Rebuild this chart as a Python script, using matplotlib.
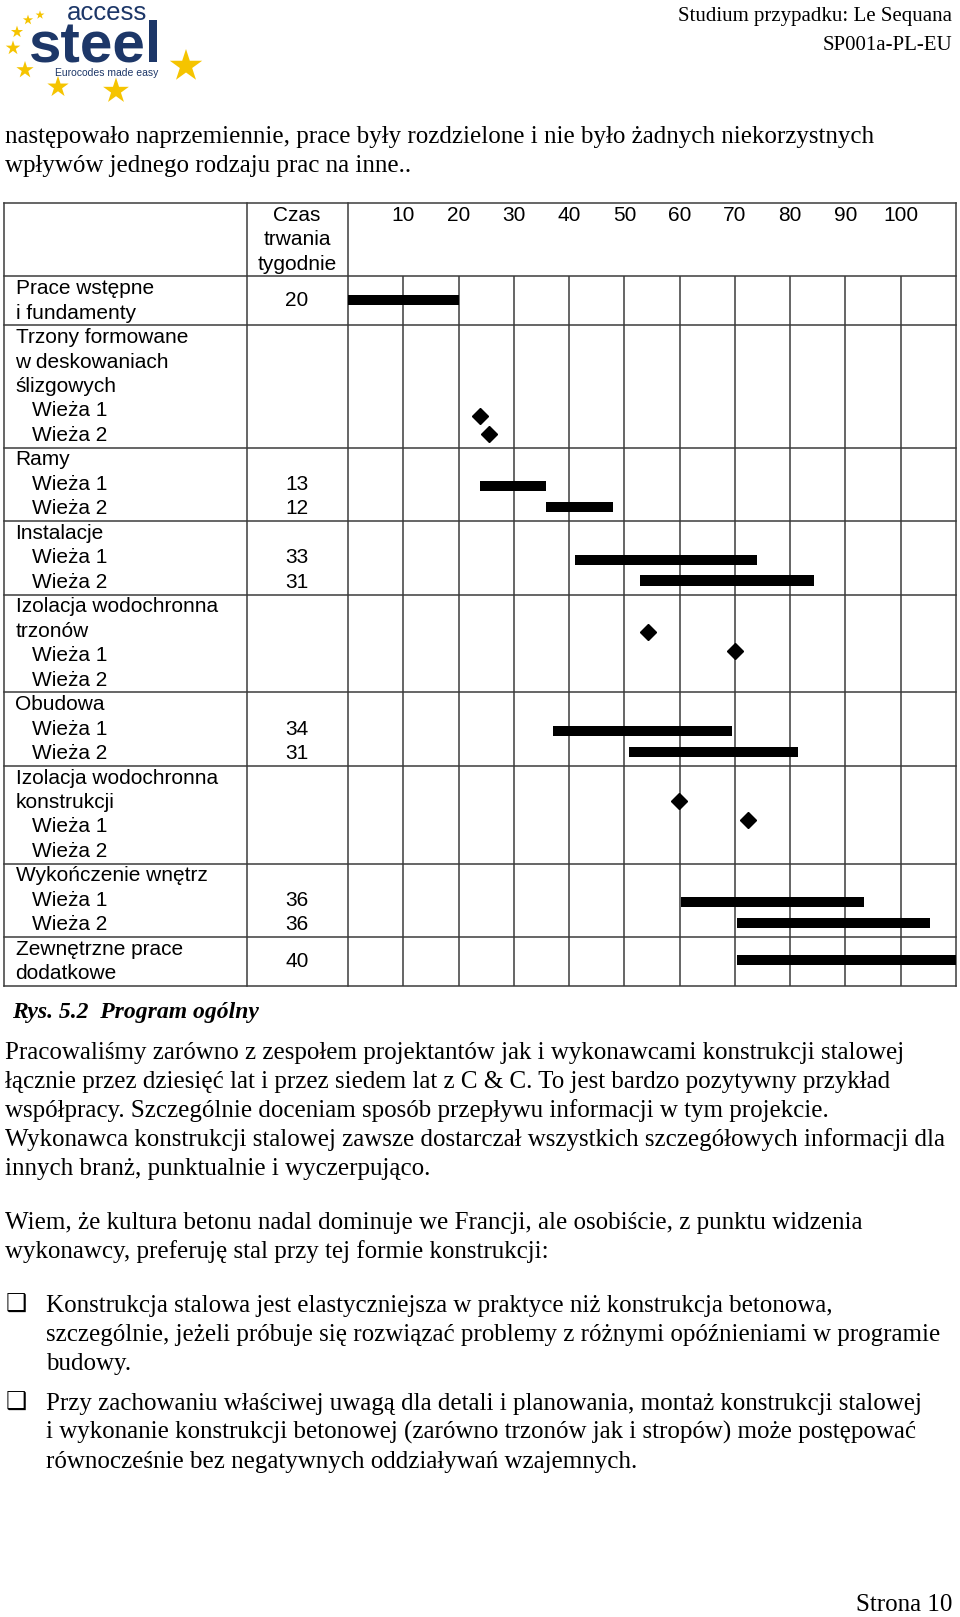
import matplotlib.pyplot as plt

# ---- chart data ----
row_titles = [
    "Prace wstępne\ni fundamenty",
    "Trzony formowane\nw deskowaniach\nślizgowych",
    "Ramy",
    "Instalacje",
    "Izolacja wodochronna\ntrzonów",
    "Obudowa",
    "Izolacja wodochronna\nkonstrukcji",
    "Wykończenie wnętrz",
    "Zewnętrzne prace\ndodatkowe",
]
row_towers = [False, True, True, True, True, True, True, True, False]
tower_names = ["Wieża 1", "Wieża 2"]
durations = [[20], [], [13, 12], [33, 31], [], [34, 31], [], [36, 36], [40]]
bar_starts = [[0], [], [23.8, 35.9], [41, 52.9], [], [37, 50.8], [], [60.2, 70.3], [70.3]]
bar_ends = [[20], [], [35.8, 47.9], [74, 84.3], [], [69.5, 81.5], [], [93.4, 105.3], [110]]
milestone_weeks = [[], [23.8, 25.5], [], [], [54.3, 70], [], [59.9, 72.4], [], []]
week_ticks = [10, 20, 30, 40, 50, 60, 70, 80, 90, 100]
week_max = 110
header_duration = ["Czas", "trwania", "tygodnie"]

# ---- page text ----
header_right = ["Studium przypadku: Le Sequana", "SP001a-PL-EU"]
intro_lines = [
    "następowało naprzemiennie, prace były rozdzielone i nie było żadnych niekorzystnych",
    "wpływów jednego rodzaju prac na inne..",
]
caption = "Rys. 5.2  Program ogólny"
para1 = [
    "Pracowaliśmy zarówno z zespołem projektantów jak i wykonawcami konstrukcji stalowej",
    "łącznie przez dziesięć lat i przez siedem lat z C & C. To jest bardzo pozytywny przykład",
    "współpracy. Szczególnie doceniam sposób przepływu informacji w tym projekcie.",
    "Wykonawca konstrukcji stalowej zawsze dostarczał wszystkich szczegółowych informacji dla",
    "innych branż, punktualnie i wyczerpująco.",
]
para2 = [
    "Wiem, że kultura betonu nadal dominuje we Francji, ale osobiście, z punktu widzenia",
    "wykonawcy, preferuję stal przy tej formie konstrukcji:",
]
bullet1 = [
    "Konstrukcja stalowa jest elastyczniejsza w praktyce niż konstrukcja betonowa,",
    "szczególnie, jeżeli próbuje się rozwiązać problemy z różnymi opóźnieniami w programie",
    "budowy.",
]
bullet2 = [
    "Przy zachowaniu właściwej uwagą dla detali i planowania, montaż konstrukcji stalowej",
    "i wykonanie konstrukcji betonowej (zarówno trzonów jak i stropów) może postępować",
    "równocześnie bez negatywnych oddziaływań wzajemnych.",
]
page_number = "Strona 10"

# ---- layout ----
W, H = 960, 1617
TOP = 203          # table top (px)
LINE = 24.47       # height of one text line in the table (px)
X_LEFT, X_COL1, X_COL2, X_RIGHT = 3.5, 247, 348, 956
GRID = "#3c3c3c"
SANS = "Liberation Sans"
SERIF = "Liberation Serif"
NAVY = "#1d3768"
GOLD = "#f5c400"


def line_px(n):
    return TOP + n * LINE


fig = plt.figure(figsize=(W / 100, H / 100), dpi=100)
page = fig.add_axes([0, 0, 1, 1])
page.set_xlim(0, W)
page.set_ylim(H, 0)
page.axis("off")

# logo
page.text(67, 19.5, "access", fontsize=18.5, color=NAVY, family=SANS, va="baseline")
page.text(29, 61, "steel", fontsize=42, color=NAVY, family=SANS, weight="bold", va="baseline")
page.text(55, 76, "Eurocodes made easy", fontsize=7.5, color=NAVY, family=SANS, va="baseline")
star_x = [186, 116, 58, 25, 13, 17, 28, 40]
star_y = [66, 91, 87, 70, 48, 32, 20, 15]
star_s = [600, 380, 260, 170, 120, 85, 60, 45]
page.scatter(star_x, star_y, s=star_s, marker="*", color=GOLD, linewidths=0)

# running header
page.text(952, 21, header_right[0], fontsize=15, family=SERIF, ha="right", va="baseline")
page.text(952, 50, header_right[1], fontsize=15, family=SERIF, ha="right", va="baseline")

BODY = 18
STEP = 28.9


def block(lines, x, y0):
    for i, s in enumerate(lines):
        page.text(x, y0 + i * STEP, s, fontsize=BODY, family=SERIF, va="baseline")


block(intro_lines, 5, 143)
page.text(12, 1018, caption, fontsize=17, family=SERIF, weight="bold", style="italic", va="baseline")
block(para1, 5, 1059)
block(para2, 5, 1229)
block(bullet1, 46, 1312)
block(bullet2, 46, 1410)
for yb in (1312, 1410):
    page.text(6, yb, "\u2751", fontsize=17, family=["DejaVu Sans"], va="baseline")
page.text(952, 1611, page_number, fontsize=BODY, family=SERIF, ha="right", va="baseline")

# ---- table structure ----
row_start = []
n_lines = 3
for title, tw in zip(row_titles, row_towers):
    row_start.append(n_lines)
    n_lines += title.count("\n") + 1 + (2 if tw else 0)
total_lines = n_lines

bounds = [0, 3] + row_start[1:] + [total_lines]
for b in bounds:
    page.plot([X_LEFT, X_RIGHT], [line_px(b)] * 2, color=GRID, lw=1.1, solid_capstyle="projecting")
for xv in (X_LEFT, X_COL1, X_COL2, X_RIGHT):
    page.plot([xv, xv], [line_px(0), line_px(total_lines)], color=GRID, lw=1.1)

for i, s in enumerate(header_duration):
    page.text(297, line_px(i + 0.5), s, fontsize=15, family=SANS, ha="center", va="center")

for r, title in enumerate(row_titles):
    parts = title.split("\n")
    s0 = row_start[r]
    for i, s in enumerate(parts):
        page.text(15.5, line_px(s0 + i + 0.5), s, fontsize=15, family=SANS, va="center")
    if row_towers[r]:
        for k, name in enumerate(tower_names):
            page.text(32, line_px(s0 + len(parts) + k + 0.5), name, fontsize=15, family=SANS, va="center")
        for k, d in enumerate(durations[r]):
            page.text(297, line_px(s0 + len(parts) + k + 0.5), str(d), fontsize=15, family=SANS,
                      ha="center", va="center")
    else:
        for d in durations[r]:
            page.text(297, line_px(s0 + len(parts) / 2), str(d), fontsize=15, family=SANS,
                      ha="center", va="center")

# ---- gantt part ----
gx0 = X_COL2 / W
gw = (X_RIGHT - X_COL2) / W
gy0 = 1 - line_px(total_lines) / H
gh = (line_px(total_lines) - TOP) / H
ax = fig.add_axes([gx0, gy0, gw, gh])
ax.set_xlim(0, week_max)
ax.set_ylim(total_lines, 0)
ax.axis("off")
ax.patch.set_alpha(0)

ax.vlines(week_ticks, 3, total_lines, color=GRID, lw=1.1)
for t in week_ticks:
    ax.text(t, 0.5, str(t), fontsize=15, family=SANS, ha="center", va="center")

milestone_nudge = {1: 0.2, 4: -0.95, 6: -1.05}
for r in range(len(row_titles)):
    n_title = row_titles[r].count("\n") + 1
    s0 = row_start[r]
    if row_towers[r]:
        mid = s0 + n_title + 1
        ys = [mid - 0.425, mid + 0.425]
    else:
        ys = [s0 + n_title / 2 - 0.05]
    for k, (a, b) in enumerate(zip(bar_starts[r], bar_ends[r])):
        ax.barh(ys[k], b - a, left=a, height=0.42, color="black", zorder=3)
    for k, wk in enumerate(milestone_weeks[r]):
        yk = s0 + n_title + 0.5 + milestone_nudge.get(r, 0) + 0.75 * k
        ax.plot(wk, yk, marker="D", ms=8.5, color="black", zorder=4)

fig.savefig("out.png", dpi=100)
